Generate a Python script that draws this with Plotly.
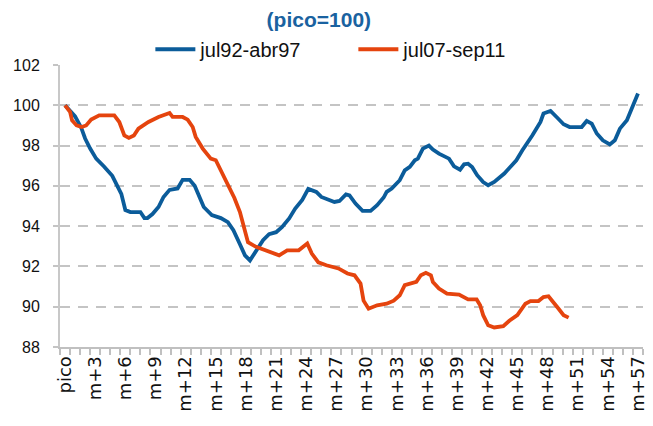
import plotly.graph_objects as go

# month offsets from the peak (pico) and index values (pico=100)
blue_x = [0, 0.5, 1.0, 1.6, 2.0, 2.5, 3.1, 3.9, 4.7, 5.2, 5.6, 6.0, 6.5, 7.5, 7.9, 8.2, 8.7, 9.3,
          9.8, 10.4, 11.2, 11.7, 12.4, 12.9, 13.3, 13.8, 14.6, 15.5, 16.2, 16.75, 17.4, 17.9, 18.4,
          18.9, 19.7, 20.3, 21.0, 21.6, 22.3, 22.9, 23.6, 24.2, 25.0, 25.5, 26.8, 27.3, 27.95, 28.3,
          28.9, 29.6, 30.4, 31.05, 31.7, 32.0, 32.5, 33.3, 33.8, 34.3, 34.8, 35.1, 35.6, 36.2, 36.6,
          37.2, 38.2, 38.7, 39.3, 39.7, 40.1, 40.5, 41.0, 41.6, 42.1, 42.7, 43.7, 44.9, 45.5, 46.5,
          47.3, 47.6, 48.3, 48.9, 49.6, 50.2, 51.4, 51.9, 52.4, 52.9, 53.5, 54.2, 54.7, 55.2, 55.9, 57.0]
blue_y = [100, 99.7, 99.45, 98.9, 98.35, 97.85, 97.35, 96.95, 96.5, 96.0, 95.6, 94.8, 94.7, 94.7,
          94.4, 94.4, 94.6, 94.95, 95.45, 95.8, 95.87, 96.3, 96.3, 96.0, 95.5, 94.95, 94.55, 94.4,
          94.2, 93.8, 93.1, 92.55, 92.3, 92.7, 93.3, 93.6, 93.7, 93.96, 94.38, 94.87, 95.3, 95.85,
          95.7, 95.45, 95.2, 95.25, 95.58, 95.53, 95.12, 94.76, 94.76, 95.04, 95.42, 95.7, 95.87,
          96.28, 96.77, 96.94, 97.27, 97.35, 97.85, 98.0, 97.8, 97.6, 97.35, 96.97, 96.8, 97.07,
          97.1, 96.94, 96.53, 96.19, 96.03, 96.19, 96.61, 97.27, 97.77, 98.51, 99.17, 99.59, 99.72,
          99.42, 99.06, 98.92, 98.92, 99.22, 99.09, 98.6, 98.26, 98.06, 98.26, 98.84, 99.26, 100.58]

orange_x = [0, 0.5, 0.7, 1.15, 1.65, 2.1, 2.6, 3.4, 4.9, 5.4, 5.9, 6.35, 6.85, 7.3, 8.3, 9.3, 10.4,
            10.7, 11.7, 12.2, 12.7, 13.0, 13.7, 14.5, 15.0, 15.5, 15.9, 16.3, 16.85, 17.4, 17.9, 18.2,
            19.0, 20.3, 21.3, 22.1, 23.25, 24.1, 24.55, 25.2, 26.0, 27.2, 28.1, 28.8, 29.4, 29.7, 30.2,
            31.05, 32.0, 32.7, 33.3, 33.8, 34.3, 34.95, 35.4, 35.9, 36.4, 36.6, 37.2, 38.0, 39.2, 40.1,
            40.95, 41.3, 41.6, 42.1, 42.7, 43.6, 44.2, 45.0, 45.8, 46.3, 47.1, 47.6, 48.1, 48.6, 49.1,
            49.6, 50.1]
orange_y = [100, 99.67, 99.25, 99.0, 98.92, 99.0, 99.29, 99.5, 99.5, 99.17, 98.5, 98.38, 98.5, 98.84,
            99.17, 99.42, 99.62, 99.42, 99.42, 99.29, 98.92, 98.43, 97.85, 97.35, 97.27, 96.77, 96.36,
            95.95, 95.4, 94.7, 93.8, 93.2, 92.97, 92.72, 92.55, 92.8, 92.8, 93.14, 92.64, 92.2, 92.06,
            91.9, 91.65, 91.56, 91.15, 90.3, 89.9, 90.07, 90.15, 90.3, 90.57, 91.07, 91.15, 91.23,
            91.56, 91.68, 91.56, 91.23, 90.9, 90.65, 90.6, 90.36, 90.36, 90.07, 89.58, 89.08, 88.97,
            89.03, 89.3, 89.58, 90.15, 90.28, 90.28, 90.48, 90.52, 90.24, 89.9, 89.58, 89.46]

tick_vals = list(range(0, 58, 3))
tick_text = ["pico"] + ["m+%d" % m for m in range(3, 58, 3)]

series_names = ["jul92-abr97", "jul07-sep11"]
title_text = "(pico=100)"

BLUE = "#0b5c9a"
ORANGE = "#e5440e"
GRID = "#c4c4c4"
FONT = "Liberation Sans, Arial, sans-serif"
XFONT = "DejaVu Sans, sans-serif"

fig = go.Figure()
fig.add_trace(go.Scatter(x=blue_x, y=blue_y, mode="lines", name=series_names[0],
                         line=dict(color=BLUE, width=3.8)))
fig.add_trace(go.Scatter(x=orange_x, y=orange_y, mode="lines", name=series_names[1],
                         line=dict(color=ORANGE, width=3.8)))

# the page body adds an 8px offset, so the figure is drawn 8px smaller
fig.update_layout(
    width=645, height=418,
    margin=dict(l=45, r=5, t=57, b=79),
    paper_bgcolor="white", plot_bgcolor="white",
    font=dict(family=FONT, color="#111111"),
    title=dict(text="<b>%s</b>" % title_text, x=0.444, xanchor="center", xref="paper",
               y=0.971, yanchor="middle", font=dict(size=21, color="#1a62a0", family=FONT)),
    legend=dict(orientation="h", x=0.155, xanchor="left", y=1.125, yanchor="top",
                font=dict(size=20, family=FONT, color="#111111"),
                entrywidth=148, entrywidthmode="pixels", bgcolor="rgba(0,0,0,0)",
                itemwidth=40, tracegroupgap=0),
    showlegend=True,
)

fig.update_xaxes(
    range=[-0.5, 57.5], tickvals=tick_vals, ticktext=tick_text, tickangle=-90,
    tickfont=dict(size=18, family=XFONT, color="#111111"),
    ticklabeloverflow="allow",
    showgrid=False, zeroline=False,
    showline=True, linecolor="#c0c0c0", linewidth=2,
    ticks="",
    minor=dict(tick0=-0.5, dtick=1, ticks="outside", ticklen=6, tickcolor="#c0c0c0",
               tickwidth=1.5, showgrid=False),
)
fig.update_yaxes(
    range=[88, 102], dtick=2, tick0=88,
    tickfont=dict(size=16, family=FONT, color="#111111"),
    showgrid=True, gridcolor=GRID, gridwidth=2, griddash="10px,8px",
    zeroline=False, showline=True, linecolor="#c8c8c8", linewidth=2,
    ticks="outside", ticklen=5, tickcolor=GRID, tickwidth=2,
    ticklabelstandoff=10,
)

fig.write_html("out.html")
